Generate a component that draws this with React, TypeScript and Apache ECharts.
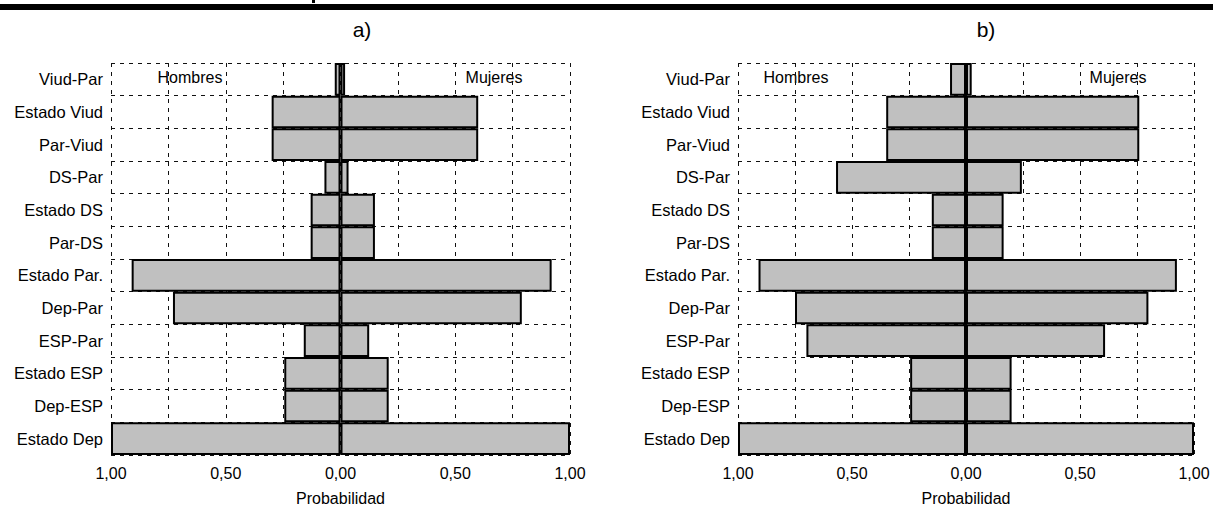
import React, { useEffect, useRef } from "react";
import * as echarts from "echarts";

const categories = [
  "Viud-Par",
  "Estado Viud",
  "Par-Viud",
  "DS-Par",
  "Estado DS",
  "Par-DS",
  "Estado Par.",
  "Dep-Par",
  "ESP-Par",
  "Estado ESP",
  "Dep-ESP",
  "Estado Dep",
];

// Panel a)
const hombresA = [0.025, 0.3, 0.3, 0.07, 0.13, 0.13, 0.91, 0.73, 0.16, 0.245, 0.245, 1.0];
const mujeresA = [0.02, 0.6, 0.6, 0.035, 0.15, 0.15, 0.92, 0.79, 0.125, 0.21, 0.21, 1.0];
// Panel b)
const hombresB = [0.07, 0.35, 0.35, 0.57, 0.15, 0.15, 0.91, 0.75, 0.7, 0.245, 0.245, 1.0];
const mujeresB = [0.025, 0.76, 0.76, 0.245, 0.165, 0.165, 0.925, 0.8, 0.61, 0.2, 0.2, 1.0];

const panelTitles = ["a)", "b)"];
const axisName = "Probabilidad";
const sideLabels = ["Hombres", "Mujeres"];

const FONT = "'Liberation Sans', Arial, sans-serif";

export default function App() {
  const ref = useRef<HTMLDivElement>(null);

  useEffect(() => {
    document.body.style.margin = "0";
    if (!ref.current) return;
    const chart = echarts.init(ref.current, undefined, { renderer: "svg" });

    const grids = [
      { left: 111, top: 63, width: 459, height: 393 },
      { left: 738, top: 63, width: 456, height: 393 },
    ];

    const dashed = { color: "#111", width: 1, type: [4, 5] as any };

    const xAxes = grids.map((_, i) => ({
      type: "value",
      gridIndex: i,
      min: -1,
      max: 1,
      interval: 0.25,
      axisLine: { show: false },
      axisTick: { show: false },
      splitLine: { show: true, lineStyle: dashed },
      axisLabel: {
        color: "#000",
        fontFamily: FONT,
        fontSize: 16,
        margin: 10,
        formatter: (v: number) => {
          const a = Math.abs(v);
          const r = Math.round(a * 100);
          return r % 50 === 0 ? a.toFixed(2).replace(".", ",") : "";
        },
      },
      name: axisName,
      nameLocation: "middle",
      nameGap: 35,
      nameTextStyle: { color: "#000", fontFamily: FONT, fontSize: 16 },
    }));

    const yAxes = grids.map((_, i) => ({
      type: "category",
      gridIndex: i,
      data: categories,
      inverse: true,
      axisLine: { show: false },
      axisTick: { show: false },
      splitLine: { show: true, lineStyle: dashed },
      axisLabel: { color: "#000", fontFamily: FONT, fontSize: 16.5, margin: 8 },
    }));

    const barStyle = { color: "#c0c0c0", borderColor: "#000", borderWidth: 2 };
    const mk = (data: number[], i: number, neg: boolean) => ({
      type: "bar",
      xAxisIndex: i,
      yAxisIndex: i,
      data: data.map((v) => (neg ? -v : v)),
      barGap: "-100%",
      barCategoryGap: "0%",
      itemStyle: barStyle,
      silent: true,
    });

    const textStyle = { fill: "#000", fontFamily: FONT, fontSize: 16 };
    const option: any = {
      animation: false,
      grid: grids,
      xAxis: xAxes,
      yAxis: yAxes,
      series: [
        mk(hombresA, 0, true),
        mk(mujeresA, 0, false),
        mk(hombresB, 1, true),
        mk(mujeresB, 1, false),
      ],
      graphic: [
        { type: "rect", shape: { x: 0, y: 4, width: 1213, height: 6 }, style: { fill: "#000" } },
        { type: "rect", shape: { x: 312, y: 0, width: 3, height: 3 }, style: { fill: "#000" } },
        {
          type: "text",
          x: 362,
          y: 29,
          style: { ...textStyle, text: panelTitles[0], fontSize: 21, textAlign: "center", textVerticalAlign: "middle" },
        },
        {
          type: "text",
          x: 986,
          y: 29,
          style: { ...textStyle, text: panelTitles[1], fontSize: 21, textAlign: "center", textVerticalAlign: "middle" },
        },
        { type: "text", x: 190, y: 77, style: { ...textStyle, text: sideLabels[0], textAlign: "center", textVerticalAlign: "middle" } },
        { type: "text", x: 494, y: 77, style: { ...textStyle, text: sideLabels[1], textAlign: "center", textVerticalAlign: "middle" } },
        { type: "text", x: 796, y: 77, style: { ...textStyle, text: sideLabels[0], textAlign: "center", textVerticalAlign: "middle" } },
        { type: "text", x: 1118, y: 77, style: { ...textStyle, text: sideLabels[1], textAlign: "center", textVerticalAlign: "middle" } },
      ],
    };

    chart.setOption(option);
    return () => chart.dispose();
  }, []);

  return <div ref={ref} style={{ width: 1213, height: 511, background: "#fff" }} />;
}
